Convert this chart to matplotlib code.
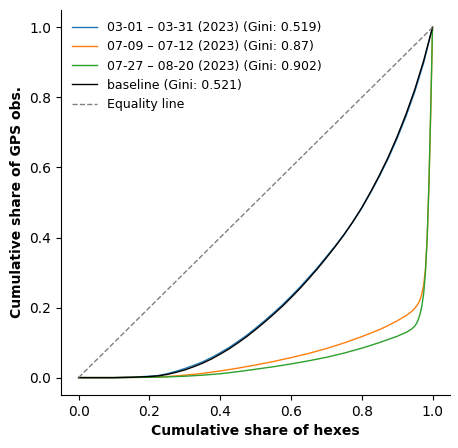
import matplotlib
matplotlib.use("Agg")
import matplotlib.pyplot as plt

# Lorenz curves
x_main = [0, 0.1, 0.15, 0.2, 0.225, 0.25, 0.275, 0.3, 0.325, 0.35, 0.375, 0.4,
          0.425, 0.45, 0.475, 0.5, 0.525, 0.55, 0.575, 0.6, 0.625, 0.65, 0.675,
          0.7, 0.725, 0.75, 0.775, 0.8, 0.825, 0.85, 0.875, 0.9, 0.925, 0.95,
          0.975, 1.0]
y_march = [0, 0, 0.001, 0.004, 0.006, 0.011, 0.018, 0.026, 0.035, 0.045, 0.057,
           0.071, 0.086, 0.103, 0.121, 0.141, 0.162, 0.184, 0.207, 0.232, 0.258,
           0.286, 0.314, 0.345, 0.376, 0.409, 0.445, 0.484, 0.528, 0.575, 0.626,
           0.683, 0.746, 0.817, 0.899, 1.0]
y_baseline = [0, 0, 0.001, 0.003, 0.005, 0.009, 0.015, 0.022, 0.031, 0.041, 0.053,
              0.067, 0.082, 0.099, 0.117, 0.137, 0.158, 0.180, 0.203, 0.228, 0.254,
              0.282, 0.311, 0.342, 0.374, 0.408, 0.445, 0.485, 0.530, 0.578, 0.630,
              0.688, 0.752, 0.823, 0.905, 1.0]

x_july = [0, 0.1, 0.15, 0.2, 0.25, 0.3, 0.35, 0.4, 0.45, 0.5, 0.55, 0.6, 0.65,
          0.7, 0.75, 0.8, 0.85, 0.875, 0.9, 0.925, 0.94, 0.95, 0.96, 0.965, 0.97,
          0.975, 0.98, 0.985, 0.99, 0.995, 1.0]
y_july = [0, 0, 0.0005, 0.001, 0.003, 0.007, 0.012, 0.019, 0.027, 0.036, 0.046,
          0.057, 0.069, 0.083, 0.099, 0.117, 0.137, 0.149, 0.162, 0.177, 0.188,
          0.198, 0.212, 0.223, 0.240, 0.265, 0.31, 0.40, 0.55, 0.76, 1.0]

x_aug = [0, 0.1, 0.2, 0.25, 0.3, 0.35, 0.4, 0.45, 0.5, 0.55, 0.6, 0.65, 0.7,
         0.75, 0.8, 0.85, 0.9, 0.925, 0.94, 0.95, 0.955, 0.96, 0.965, 0.97,
         0.975, 0.98, 0.985, 0.99, 0.995, 1.0]
y_aug = [0, 0, 0.001, 0.002, 0.004, 0.007, 0.011, 0.017, 0.024, 0.031, 0.039,
         0.048, 0.058, 0.070, 0.084, 0.100, 0.118, 0.129, 0.138, 0.147, 0.155,
         0.166, 0.182, 0.205, 0.24, 0.30, 0.40, 0.56, 0.77, 1.0]

labels = [
    "03-01 – 03-31 (2023) (Gini: 0.519)",
    "07-09 – 07-12 (2023) (Gini: 0.87)",
    "07-27 – 08-20 (2023) (Gini: 0.902)",
    "baseline (Gini: 0.521)",
]

fig = plt.figure(figsize=(4.58, 4.48), dpi=100)
ax = fig.add_axes([0.133, 0.118, 0.85, 0.86])

ax.plot(x_main, y_march, color="tab:blue", lw=1, label=labels[0])
ax.plot(x_july, y_july, color="tab:orange", lw=1, label=labels[1])
ax.plot(x_aug, y_aug, color="tab:green", lw=1, label=labels[2])
ax.plot(x_main, y_baseline, color="black", lw=1, label=labels[3])
ax.plot([0, 1], [0, 1], color="gray", ls="--", lw=1, label="Equality line")

ax.set_xlabel("Cumulative share of hexes", fontweight="bold")
ax.set_ylabel("Cumulative share of GPS obs.", fontweight="bold")
ax.spines["top"].set_visible(False)
ax.spines["right"].set_visible(False)
ax.legend(loc="upper left", frameon=False, fontsize=9)

fig.savefig("out.png", dpi=100)
